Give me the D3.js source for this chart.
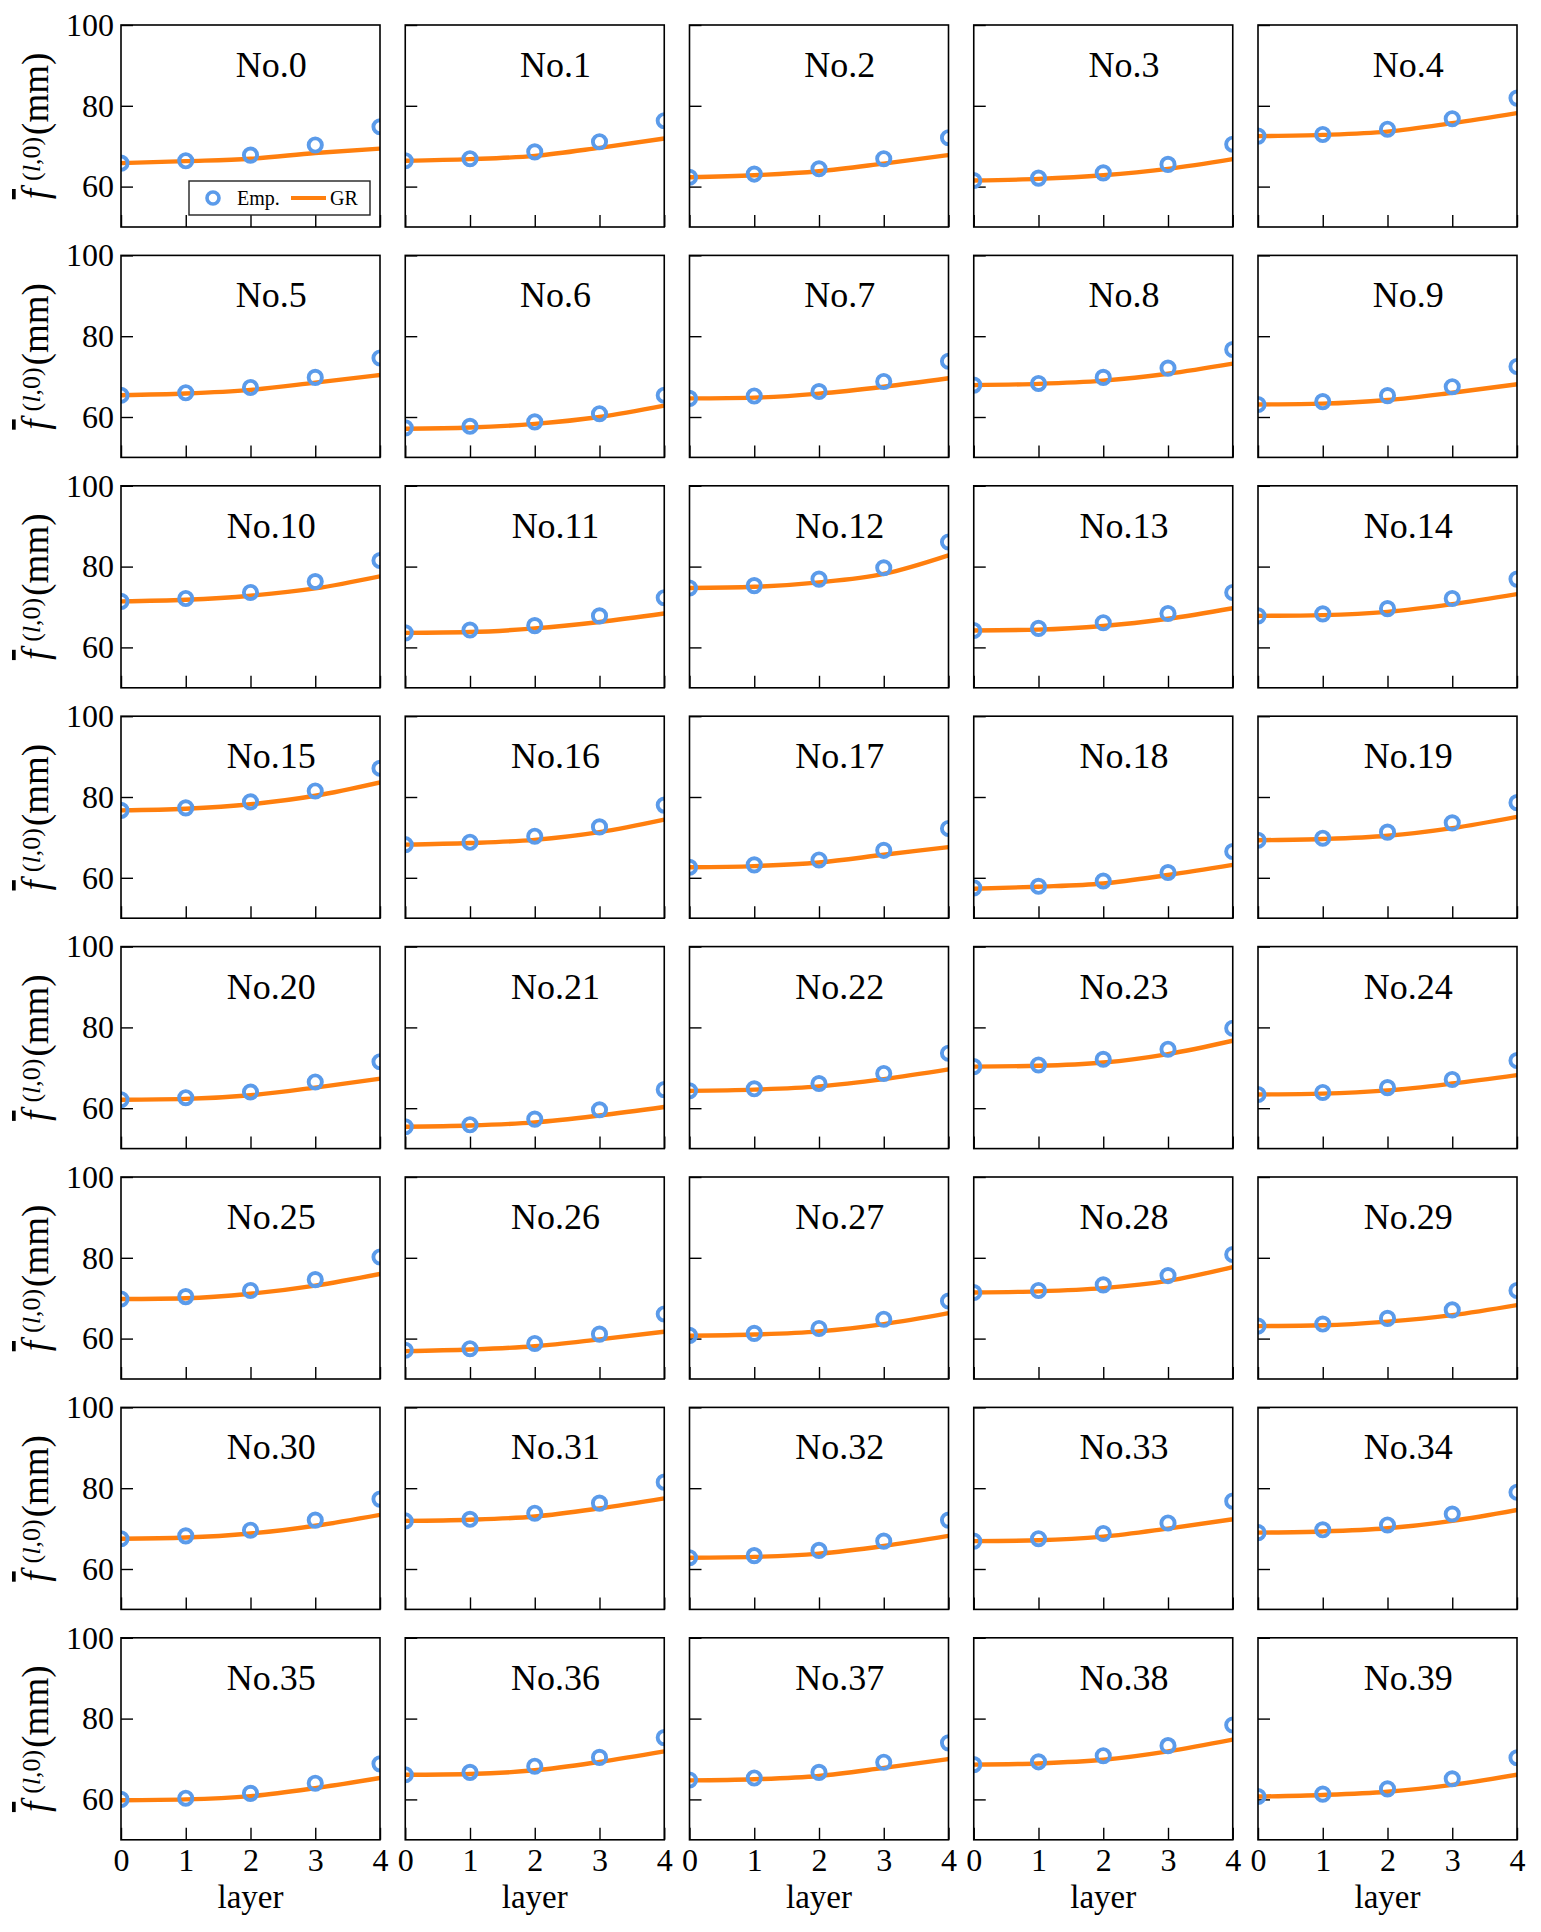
<!DOCTYPE html>
<html><head><meta charset="utf-8">
<script src="https://cdn.jsdelivr.net/npm/d3@7"></script>
<style>
body{margin:0;background:#fff}
text{font-family:"Liberation Serif","Times New Roman",serif;fill:#000}
</style>
</head><body>
<svg id="chart" width="1541" height="1932"></svg>
<script>
const layers = [0, 1, 2, 3, 4];
const yTicks = [60, 80, 100];
const panelLabels = d3.range(40).map(i => "No." + i);
const legendLabels = ["Emp.", "GR"];
const xLabel = "layer";

const emp = [
  [65.8,66.4,67.8,70.3,74.8],[66.4,66.9,68.6,71.1,76.3],[62.3,63.1,64.4,66.9,72.1],[61.5,62.1,63.4,65.5,70.5],[72.5,72.9,74.2,76.8,81.9],
  [65.4,66.0,67.3,69.8,74.6],[57.3,57.7,58.8,60.8,65.4],[64.6,65.2,66.3,68.8,73.8],[67.9,68.3,69.8,72.1,76.7],[63.1,63.8,65.3,67.5,72.5],
  [71.4,72.1,73.6,76.3,81.5],[63.6,64.3,65.4,67.8,72.3],[74.7,75.3,76.9,79.7,86.1],[64.2,64.7,66.1,68.4,73.6],[67.8,68.3,69.6,72.1,76.9],
  [76.7,77.3,78.8,81.5,87.1],[68.2,68.8,70.3,72.6,78.0],[62.6,63.2,64.4,66.8,72.2],[57.5,57.9,59.2,61.3,66.5],[69.3,69.8,71.3,73.6,78.6],
  [62.1,62.6,64.0,66.5,71.5],[55.4,55.9,57.3,59.6,64.6],[64.3,64.8,66.1,68.6,73.6],[70.3,70.7,72.1,74.6,79.8],[63.4,63.9,65.1,67.1,71.8],
  [69.8,70.4,71.9,74.6,80.2],[57.1,57.5,58.8,61.1,66.1],[60.8,61.3,62.5,64.8,69.3],[71.4,71.9,73.3,75.6,80.8],[63.1,63.6,65.0,67.1,71.9],
  [67.5,68.2,69.6,72.1,77.3],[71.9,72.3,73.8,76.3,81.5],[62.8,63.3,64.6,66.9,72.1],[66.9,67.5,68.8,71.4,76.8],[69.0,69.7,70.9,73.6,79.0],
  [60.0,60.3,61.5,64.0,68.8],[66.1,66.7,68.2,70.4,75.3],[64.8,65.3,66.7,69.2,74.0],[68.6,69.3,70.8,73.3,78.4],[60.7,61.3,62.6,65.1,70.3]
];

const gr = [
  [65.8,66.3,66.9,68.3,69.4],[66.4,66.8,67.6,69.6,71.9],[62.3,62.8,63.8,65.7,67.8],[61.5,61.9,62.8,64.4,66.8],[72.5,72.8,73.6,75.7,78.2],
  [65.4,65.8,66.7,68.5,70.4],[57.1,57.4,58.3,60.0,62.8],[64.6,64.8,65.8,67.5,69.6],[67.9,68.2,69.0,70.7,73.2],[63.1,63.3,64.2,66.0,68.1],
  [71.4,71.8,72.8,74.6,77.6],[63.6,63.8,64.7,66.3,68.4],[74.7,75.0,76.1,78.2,82.8],[64.2,64.4,65.3,67.1,69.7],[67.8,68.0,68.8,70.7,73.2],
  [76.7,77.1,78.2,80.3,83.6],[68.2,68.6,69.4,71.3,74.4],[62.6,62.9,63.8,65.7,67.6],[57.3,57.8,58.6,60.7,63.2],[69.3,69.6,70.4,72.3,75.1],
  [62.1,62.3,63.2,65.1,67.3],[55.4,55.7,56.5,58.2,60.3],[64.3,64.6,65.4,67.2,69.6],[70.3,70.5,71.3,73.4,76.7],[63.4,63.6,64.4,66.1,68.2],
  [69.8,70.0,71.1,73.1,76.0],[56.9,57.3,58.1,59.8,61.7],[60.7,61.0,61.8,63.6,66.3],[71.4,71.7,72.5,74.3,77.7],[63.1,63.3,64.2,65.8,68.3],
  [67.5,67.8,68.8,70.7,73.4],[71.9,72.2,73.0,75.0,77.5],[62.8,63.0,63.8,65.7,68.2],[66.9,67.1,68.0,70.0,72.3],[69.0,69.3,70.1,71.9,74.6],
  [59.8,60.0,60.8,62.8,65.3],[66.1,66.3,67.2,69.3,71.9],[64.7,65.0,65.8,67.8,70.0],[68.6,68.9,69.8,71.9,74.8],[60.7,61.1,61.9,63.6,66.1]
];

// layout
const nCols = 5, nRows = 8;
const left0 = 121, top0 = 25, pw = 259, ph = 202, colPitch = 284.25, rowPitch = 230.4;
const BLUE = "#5b9bea", ORANGE = "#ff7f0e";

const svg = d3.select("#chart");
const x = d3.scaleLinear().domain([0, 4]).range([0, pw]);
const y = d3.scaleLinear().domain([50, 100]).range([ph, 0]);
const line = d3.line().x((d, i) => x(layers[i])).y(d => y(d)).curve(d3.curveMonotoneX);

const defs = svg.append("defs");
defs.append("clipPath").attr("id", "clip").append("rect").attr("x", 0).attr("y", 0).attr("width", pw).attr("height", ph);

panelLabels.forEach((lab, k) => {
  const r = Math.floor(k / nCols), c = k % nCols;
  const g = svg.append("g").attr("transform", `translate(${left0 + c * colPitch},${top0 + r * rowPitch})`);

  // y axis (inward ticks)
  const ya = g.append("g").call(d3.axisLeft(y).tickValues(yTicks).tickSizeInner(-12).tickSizeOuter(0).tickPadding(7));
  ya.select(".domain").remove();
  ya.selectAll(".tick line").attr("stroke", "#000").attr("stroke-width", 1.4);
  ya.selectAll(".tick text").attr("font-size", 32);
  if (c !== 0) ya.selectAll(".tick text").remove();

  // x axis
  const xa = g.append("g").attr("transform", `translate(0,${ph})`)
    .call(d3.axisBottom(x).tickValues(layers).tickFormat(d3.format("d")).tickSizeInner(-12).tickSizeOuter(0).tickPadding(8));
  xa.select(".domain").remove();
  xa.selectAll(".tick line").attr("stroke", "#000").attr("stroke-width", 1.4);
  xa.selectAll(".tick text").attr("font-size", 32);
  if (r !== nRows - 1) xa.selectAll(".tick text").remove();

  const plot = g.append("g").attr("clip-path", "url(#clip)");
  plot.append("path").datum(gr[k]).attr("d", line)
    .attr("fill", "none").attr("stroke", ORANGE).attr("stroke-width", 4.4);
  plot.selectAll("circle").data(emp[k]).join("circle")
    .attr("cx", (d, i) => x(layers[i])).attr("cy", d => y(d)).attr("r", 6.6)
    .attr("fill", "none").attr("stroke", BLUE).attr("stroke-width", 3.9);

  // frame
  g.append("rect").attr("x", 0).attr("y", 0).attr("width", pw).attr("height", ph)
    .attr("fill", "none").attr("stroke", "#000").attr("stroke-width", 1.6);

  // title
  g.append("text").attr("x", pw * 0.58).attr("y", 52).attr("text-anchor", "middle")
    .attr("font-size", 36).text(lab);

  // x label
  if (r === nRows - 1) {
    g.append("text").attr("x", pw / 2).attr("y", ph + 68).attr("text-anchor", "middle")
      .attr("font-size", 33).text(xLabel);
  }

  // y label
  if (c === 0) {
    const t = g.append("text").attr("transform", `translate(-73,${ph / 2}) rotate(-90)`)
      .attr("text-anchor", "middle").attr("font-size", 37);
    t.append("tspan").attr("font-style", "italic").attr("text-decoration", "overline").text("f");
    t.append("tspan").attr("font-size", 26).attr("dx", 8).attr("dy", -8).text("(");
    t.append("tspan").attr("font-size", 26).attr("font-style", "italic").text("l");
    t.append("tspan").attr("font-size", 26).text(",0)");
    t.append("tspan").attr("dx", 2).attr("dy", 8).text("(mm)");
  }

  // legend in first panel
  if (k === 0) {
    const lg = g.append("g").attr("transform", "translate(68,156)");
    lg.append("rect").attr("x", 0).attr("y", 0).attr("width", 181).attr("height", 34)
      .attr("fill", "#fff").attr("stroke", "#222").attr("stroke-width", 1.4);
    lg.append("circle").attr("cx", 24).attr("cy", 17).attr("r", 6).attr("fill", "none")
      .attr("stroke", BLUE).attr("stroke-width", 3.6);
    lg.append("text").attr("x", 48).attr("y", 24).attr("font-size", 20).text(legendLabels[0]);
    lg.append("line").attr("x1", 102).attr("x2", 137).attr("y1", 17).attr("y2", 17)
      .attr("stroke", ORANGE).attr("stroke-width", 4.2);
    lg.append("text").attr("x", 141).attr("y", 24).attr("font-size", 20).text(legendLabels[1]);
  }
});
</script>
</body></html>
